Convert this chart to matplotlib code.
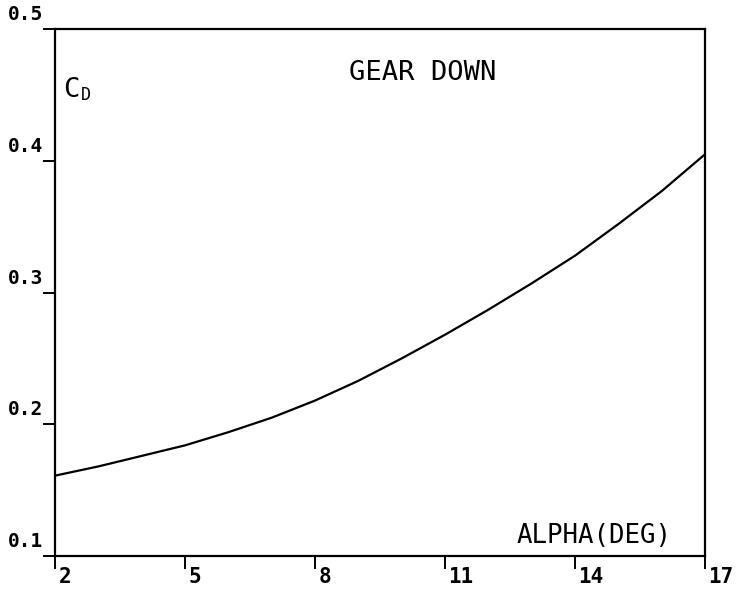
import numpy as np
from matplotlib import pyplot as plt

# drag coefficient vs angle of attack, gear down
alpha = [2, 3, 4, 5, 6, 7, 8, 9, 10, 11, 12, 13, 14, 15, 16, 17]
cd = [0.161, 0.168, 0.176, 0.184, 0.194, 0.205, 0.218, 0.233, 0.250,
      0.268, 0.287, 0.307, 0.328, 0.352, 0.377, 0.405]

xticks = [2, 5, 8, 11, 14, 17]
yticks = [0.1, 0.2, 0.3, 0.4, 0.5]

plt.rcParams['font.family'] = ['DejaVu Sans Mono']

fig = plt.figure(figsize=(7.37, 5.92), dpi=100)
ax = fig.add_axes([0.0746, 0.0608, 0.882, 0.890])

ax.plot(alpha, cd, color='black', linewidth=1.6)

ax.set_xlim(2, 17)
ax.set_ylim(0.1, 0.5)
ax.set_xticks(xticks)
ax.set_yticks(yticks)
ax.tick_params(direction='out', length=9, width=1.4, color='black',
               labelbottom=False, labelleft=False)
for s in ax.spines.values():
    s.set_linewidth(1.6)

# plotter-style tick labels: x labels right of tick, y labels above tick
for a in xticks:
    ax.annotate(str(a), xy=(a, 0), xycoords=('data', 'axes fraction'),
                xytext=(2.5, -8), textcoords='offset points',
                ha='left', va='top', fontsize=15, fontweight='bold')
for v in yticks:
    ax.annotate(f"{v:.1f}", xy=(0, v), xycoords=('axes fraction', 'data'),
                xytext=(-8.5, 3.5), textcoords='offset points',
                ha='right', va='bottom', fontsize=14, fontweight='bold')

ax.text(0.565, 0.917, "GEAR DOWN", transform=ax.transAxes,
        ha='center', va='center', fontsize=19.5)
ax.text(0.949, 0.025, "ALPHA(DEG)", transform=ax.transAxes,
        ha='right', va='baseline', fontsize=18.5)
ax.text(0.012, 0.871, "C", transform=ax.transAxes,
        ha='left', va='baseline', fontsize=19.5)
ax.text(0.040, 0.865, "D", transform=ax.transAxes,
        ha='left', va='baseline', fontsize=12)

fig.savefig("out.png", dpi=100)
